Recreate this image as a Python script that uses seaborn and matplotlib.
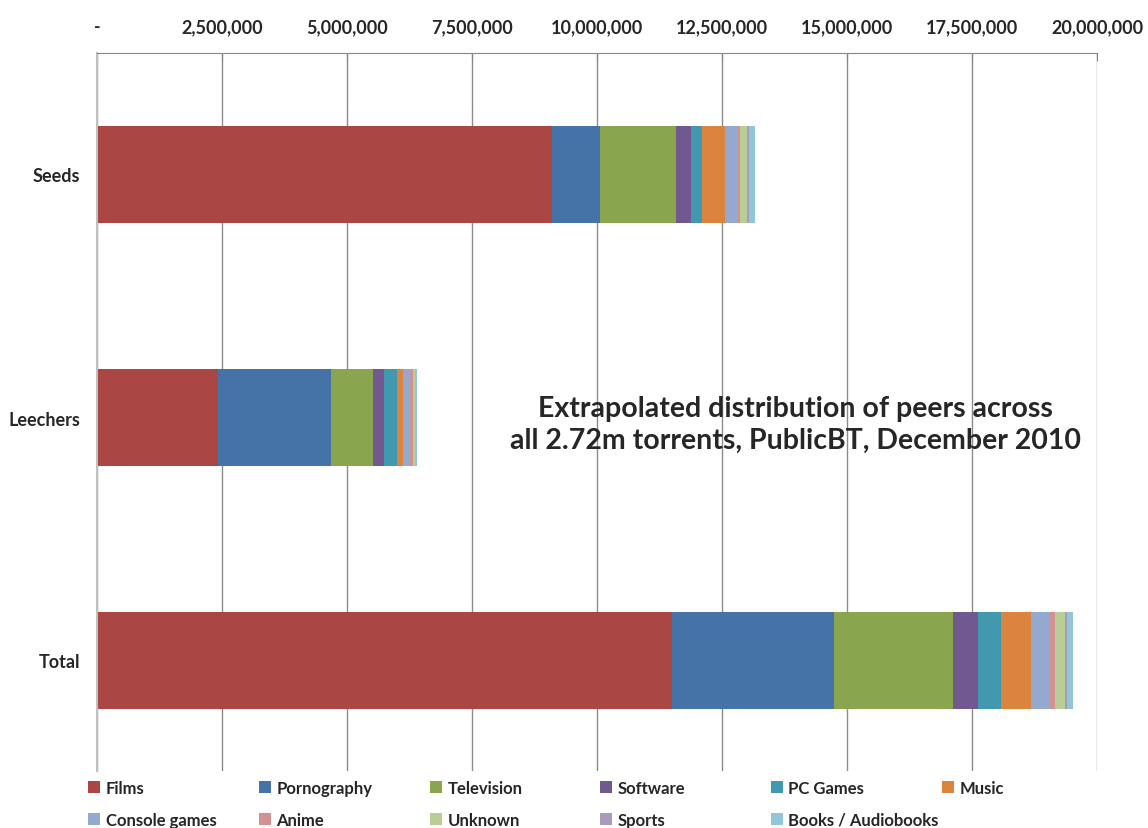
import numpy as np
import pandas as pd
import matplotlib
matplotlib.use("Agg")
import matplotlib.pyplot as plt
import seaborn as sns
from matplotlib.patches import Patch
from matplotlib.ticker import FuncFormatter

# data (peers)
groups = ["Seeds", "Leechers", "Total"]
categories = ["Films", "Pornography", "Television", "Software", "PC Games", "Music",
              "Console games", "Anime", "Unknown", "Sports", "Books / Audiobooks"]
seeds = [9094000, 966000, 1520000, 300000, 213000, 474000, 260000, 33000, 147000, 33000, 120000]
leechers = [2413000, 2260000, 854000, 213000, 267000, 120000, 133000, 67000, 26000, 10000, 30000]
total = [11493000, 3247000, 2380000, 493000, 474000, 593000, 373000, 107000, 193000, 47000, 120000]
colors = ["#AA4643", "#4572A7", "#89A54E", "#71588F", "#4198AF", "#DB843D",
          "#93A9CF", "#D19392", "#B9CD96", "#A99BBD", "#92C5D8"]

title = "Extrapolated distribution of peers across\nall 2.72m torrents, PublicBT, December 2010"

sns.set_style("white")
plt.rcParams["font.family"] = ["Lato", "DejaVu Sans"]
plt.rcParams["font.weight"] = "bold"

df = pd.DataFrame({"Seeds": seeds, "Leechers": leechers, "Total": total}, index=categories)
cum = df.cumsum()

fig = plt.figure(figsize=(11.48, 8.29), dpi=100)
ax = fig.add_axes([97/1148, 1-772/829, 1000/1148, 718/829])

# stacked bars: draw the longest cumulative first, shorter ones over it
for cat, col in reversed(list(zip(categories, colors))):
    sns.barplot(x=cum.loc[cat, groups].values, y=groups, color=col, orient="h",
                width=0.4, saturation=1, linewidth=0, ax=ax)

ax.set_xlim(0, 20000000)
ax.set_ylim(2.5 - 11/243, -0.5)
ax.set_xlabel("")
ax.set_ylabel("")

ax.set_xticks(np.arange(0, 20000001, 2500000))
ax.xaxis.set_major_formatter(FuncFormatter(lambda v, p: "-" if v == 0 else f"{int(v):,}"))
ax.xaxis.tick_top()
ax.tick_params(axis="x", direction="in", length=6, pad=13, color="#868686",
               labelsize=13)
ax.xaxis.grid(True, color="#8c8c8c", lw=1)
ax.set_axisbelow(True)

ax.set_yticks([0, 1, 2])
ax.set_yticklabels(groups)
ax.set_yticks([0.5, 1.5], minor=True)
ax.tick_params(axis="y", which="major", length=0, pad=12, labelsize=13)
ax.tick_params(axis="y", which="minor", length=5, direction="out", color="#868686")

for s in ["right", "bottom"]:
    ax.spines[s].set_visible(False)
ax.spines["top"].set_color("#868686")
ax.spines["left"].set_color("#c0c0c0")
ax.spines["left"].set_linewidth(1.5)

fig.text(795/1148, 1-425/829, title, ha="center", va="center", fontsize=20.5,
         fontweight="bold", linespacing=1.3)

# legend laid out row by row in six even columns
handles = [Patch(facecolor=c, edgecolor="none") for c in colors]
col_x = [88, 259, 430, 600, 771, 942]
for i, x in enumerate(col_x):
    idx = [j for j in (i, i + 6) if j < len(categories)]
    fig.legend([handles[j] for j in idx], [categories[j] for j in idx],
               loc="upper left", bbox_to_anchor=(x/1148, 1-781/829),
               frameon=False, fontsize=12, handlelength=0.7, handleheight=0.7,
               handletextpad=0.35, labelspacing=0.95, borderpad=0, borderaxespad=0)

fig.savefig("out.png", dpi=100)
